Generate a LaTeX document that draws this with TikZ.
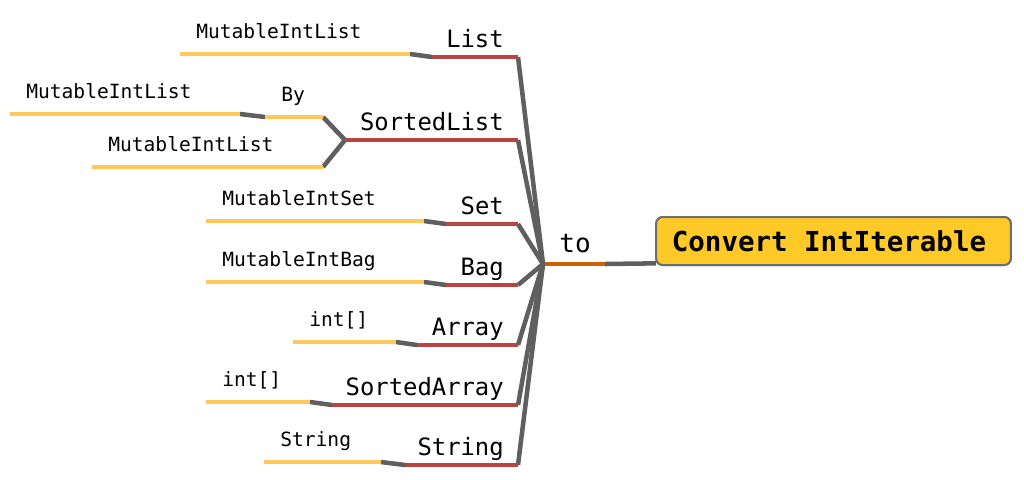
\documentclass[tikz,border=0pt]{standalone}
\usepackage{fontspec}
\setmonofont{DejaVu Sans Mono}
\usetikzlibrary{positioning}

\definecolor{leafyellow}{RGB}{255,200,90}
\definecolor{branchred}{RGB}{185,68,68}
\definecolor{linkgray}{RGB}{95,95,95}
\definecolor{huborange}{RGB}{204,97,0}
\definecolor{rootfill}{RGB}{255,202,40}
\definecolor{rootdraw}{RGB}{110,110,110}

\begin{document}
\begin{tikzpicture}[x=0.75pt, y=-0.75pt,
    leaf/.style={draw=leafyellow, line width=3pt},
    branch/.style={draw=branchred, line width=3pt},
    link/.style={draw=linkgray, line width=3.4pt},
    hubline/.style={draw=huborange, line width=3pt},
    leaflabel/.style={font=\ttfamily\fontsize{14.7}{17}\selectfont, inner sep=0pt, anchor=base west},
    branchlabel/.style={font=\ttfamily\fontsize{17.9}{20}\selectfont, inner sep=0pt, anchor=base east},
    root/.style={draw=rootdraw, fill=rootfill, line width=1.5pt, rounded corners=5pt,
        minimum width=266pt, minimum height=36pt, inner sep=0pt,
        font=\ttfamily\bfseries\fontsize{20.6}{24}\selectfont}]

        \useasboundingbox (0,0) rectangle (1024,479);

        % root and hub
        \node[root] (conv) at (833.5,241) {};
        \coordinate (hub) at (543,264);
        \coordinate (toend) at (605,264);
        \coordinate (convin) at ([xshift=0.75pt, yshift=2pt]conv.south west);
        \draw[link] (toend) -- (convin);
        \node[root] at (833.5,241) {};
        \node[inner sep=0pt, font=\ttfamily\bfseries\fontsize{20.6}{24}\selectfont] (convtxt) at (829,241) {Convert IntIterable};
        \draw[hubline] (hub) -- (toend);
        \node[branchlabel, font=\ttfamily\fontsize{19.5}{22}\selectfont] (tolab) at (591,252) {to};

        % branches with one leaf each
        \foreach \nm/\txt/\yy/\xs/\ls/\le/\lt in {
                list/List/57/432/180/410/MutableIntList,
                set/Set/224/446/206/424/MutableIntSet,
                bag/Bag/285/446/206/424/MutableIntBag,
                array/Array/345/417/293/396/int[],
                sortarray/SortedArray/405/332/206/310/int[],
                string/String/465/405/264/381/String}
        {
            \coordinate (\nm-s) at (\xs,\yy);
            \coordinate (\nm-e) at (518,\yy);
            \coordinate (\nm-ls) at (\ls,\yy-3);
            \coordinate (\nm-le) at (\le,\yy-3);
            \draw[link] (\nm-e) -- (hub);
            \draw[link] (\nm-le) -- (\nm-s);
            \draw[branch] (\nm-s) -- (\nm-e);
            \draw[leaf] (\nm-ls) -- (\nm-le);
            \node[branchlabel] (\nm-lab) at (504,\yy-10) {\txt};
            \node[leaflabel] (\nm-leaflab) at (\ls+16,\yy-19) {\lt};
        }

        % SortedList with its two leaves
        \coordinate (sortlist-s) at (345,140);
        \coordinate (sortlist-e) at (518,140);
        \coordinate (by-s) at (265,117);
        \coordinate (by-e) at (323,117);
        \coordinate (bylist-s) at (10,114);
        \coordinate (bylist-e) at (240,114);
        \coordinate (sortleaf-s) at (92,167);
        \coordinate (sortleaf-e) at (323,167);
        \draw[link] (sortlist-e) -- (hub);
        \draw[link] (by-e) -- (sortlist-s);
        \draw[link] (sortleaf-e) -- (sortlist-s);
        \draw[link] (bylist-e) -- (by-s);
        \draw[branch] (sortlist-s) -- (sortlist-e);
        \draw[leaf] (by-s) -- (by-e);
        \draw[leaf] (bylist-s) -- (bylist-e);
        \draw[leaf] (sortleaf-s) -- (sortleaf-e);
        \node[branchlabel] (sortlist-lab) at (504,130) {SortedList};
        \node[leaflabel] (by-lab) at (281,101) {By};
        \node[leaflabel] (bylist-lab) at (26,98) {MutableIntList};
        \node[leaflabel] (sortleaf-lab) at (108,151) {MutableIntList};
\end{tikzpicture}
\end{document}
